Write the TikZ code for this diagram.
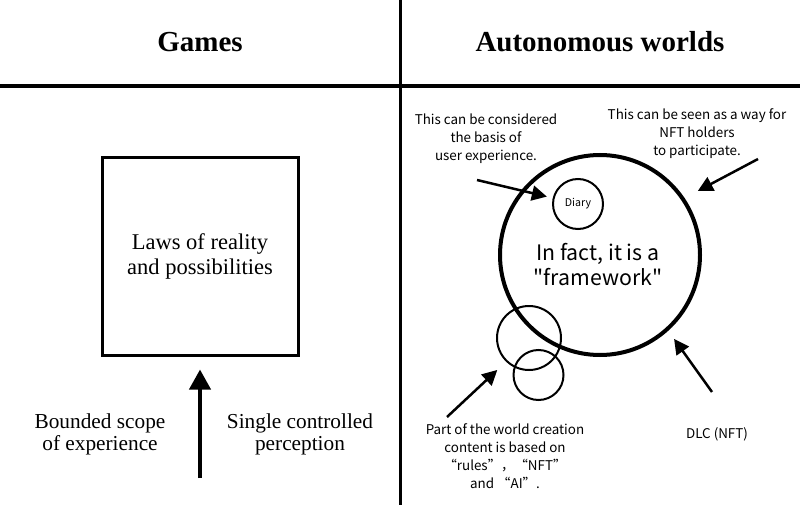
\documentclass[tikz,border=0pt]{standalone}
\usepackage{fontspec}
\setmainfont{Liberation Serif}
\newfontfamily\notefont{Noto Sans CJK SC}
\usetikzlibrary{arrows.meta}

\begin{document}
\begin{tikzpicture}[x=1pt,y=-1pt,
  title/.style={font=\bfseries\fontsize{29}{31}\selectfont},
  law/.style={font=\fontsize{21.3}{22}\selectfont, align=center},
  note/.style={font=\notefont\fontsize{13.4}{18}\selectfont, align=center},
  ring/.style={draw, circle, line width=2pt, inner sep=0pt},
  pointer/.style={line width=2.5pt, -{Triangle[length=15pt,width=15pt]}}]
\useasboundingbox (0,0) rectangle (800,505);
% frame
\path[draw,line width=3pt] (400,0) -- (400,505);
\path[draw,line width=3.5pt] (0,86) -- (800,86);
\node[title] (games) at (200,42) {Games};
\node[title] (worlds) at (600,42) {Autonomous worlds};
% games
\node[draw, line width=3pt, minimum width=196pt, minimum height=197pt, law,
  font=\fontsize{22.5}{25}\selectfont] (laws) at (200,256.5) {Laws of reality\\and possibilities};
\coordinate (base) at (200,478);
\node[law] (scope) at (100,434) {Bounded scope\\of experience};
\node[law] (single) at (300,434) {Single controlled\\perception};
\path[draw,line width=4pt,-{Triangle[length=20pt,width=21pt]},shorten >=13pt] (base) -- (laws.south);
% autonomous worlds
\node[draw, circle, line width=4pt, minimum size=200pt, inner sep=0pt] (world) at (600,255) {};
\node[font=\notefont\fontsize{21.3}{25}\selectfont, align=center] (frame) at (598,265) {In fact, it is a\\"framework"};
\node[ring, minimum size=50pt, font=\notefont\fontsize{10.6}{13}\selectfont] (diary) at (578,204) {Diary};
\node[ring, minimum size=64pt] (rule) at (529,338) {};
\node[ring, minimum size=50pt] (ai) at (538.5,375) {};
\node[note] (basis) at (486,139) {This can be considered\\the basis of\\user experience.};
\node[note] (holders) at (697,134) {This can be seen as a way for\\NFT holders\\to participate.};
\node[note] (part) at (505,456) {Part of the world creation\\content is based on\\“rules”，“NFT”\\and “AI”.};
\node[note] (dlc) at (717,434) {DLC (NFT)};
\coordinate (basis end) at (477,180);
\coordinate (holders end) at (758,159);
\coordinate (part end) at (447,417);
\coordinate (dlc end) at (712,392);
\path[draw,pointer,shorten >=6pt] (basis end) -- (diary);
\path[draw,pointer,shorten >=15pt] (holders end) -- (world.34);
\path[draw,pointer,shorten >=12pt] (part end) -- (rule.226);
\path[draw,pointer,shorten >=10pt] (dlc end) -- (world.-48);
\end{tikzpicture}
\end{document}
